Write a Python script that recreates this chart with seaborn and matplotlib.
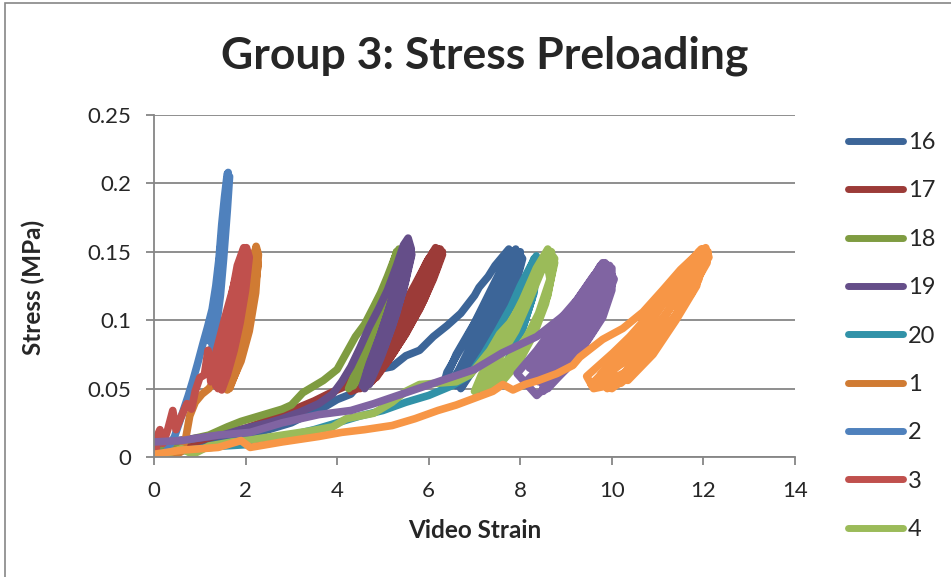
import matplotlib
matplotlib.use("Agg")
import matplotlib.pyplot as plt
import numpy as np
import pandas as pd
import seaborn as sns
from matplotlib.lines import Line2D
from matplotlib.patches import Rectangle

# points as (video strain, stress MPa), in drawing order
s16 = [(0.0, 0.004), (0.5, 0.006), (1.0, 0.008), (1.5, 0.012), (2.0, 0.016), (2.5, 0.020),
       (3.0, 0.025), (3.3, 0.030), (3.6, 0.034), (4.0, 0.042), (4.3, 0.046), (4.6, 0.058),
       (4.9, 0.064), (5.2, 0.066), (5.5, 0.074), (5.8, 0.078), (6.1, 0.088), (6.4, 0.096),
       (6.7, 0.105), (7.0, 0.118), (7.1, 0.124), (7.3, 0.132), (7.45, 0.140), (7.75, 0.152),
       (7.9, 0.145), (7.7, 0.120), (7.3, 0.095), (6.9, 0.072), (6.5, 0.055), (6.3, 0.050),
       (6.4, 0.062), (6.8, 0.085), (7.2, 0.110), (7.6, 0.135), (7.9, 0.152),
       (8.0, 0.140), (7.75, 0.115), (7.4, 0.090), (7.0, 0.070), (6.6, 0.052),
       (6.8, 0.068), (7.2, 0.092), (7.6, 0.120), (7.95, 0.150),
       (8.05, 0.145), (7.85, 0.120), (7.5, 0.095), (7.1, 0.070), (6.7, 0.050),
       (7.0, 0.070), (7.4, 0.100), (7.8, 0.130), (8.0, 0.150),
       (7.7, 0.118), (7.35, 0.095), (6.95, 0.075), (6.55, 0.058), (6.35, 0.055),
       (6.6, 0.075), (7.0, 0.098), (7.4, 0.125), (7.7, 0.145), (7.85, 0.150),
       (7.8, 0.130), (7.45, 0.105), (7.05, 0.080), (6.6, 0.060),
       (6.9, 0.080), (7.3, 0.108), (7.65, 0.135), (7.9, 0.150)]

s17 = [(0.0, 0.003), (0.5, 0.008), (1.0, 0.012), (1.5, 0.017), (2.0, 0.021), (2.5, 0.027),
       (3.0, 0.034), (3.5, 0.041), (3.8, 0.046), (4.2, 0.052), (4.5, 0.066), (4.8, 0.078),
       (5.1, 0.090), (5.4, 0.108), (5.7, 0.126), (6.0, 0.145), (6.2, 0.152),
       (6.3, 0.148), (6.1, 0.130), (5.8, 0.108), (5.4, 0.085), (5.0, 0.066), (4.6, 0.052), (4.3, 0.048),
       (4.5, 0.058), (4.9, 0.076), (5.3, 0.098), (5.65, 0.120), (5.95, 0.142), (6.15, 0.153),
       (6.3, 0.150), (6.05, 0.128), (5.7, 0.104), (5.3, 0.080), (4.9, 0.062), (4.5, 0.050),
       (4.7, 0.062), (5.1, 0.082), (5.5, 0.106), (5.85, 0.130), (6.1, 0.150),
       (6.25, 0.145), (5.95, 0.120), (5.55, 0.094), (5.15, 0.072), (4.75, 0.055),
       (5.0, 0.070), (5.4, 0.094), (5.8, 0.120), (6.1, 0.145), (6.25, 0.152),
       (6.2, 0.140), (5.9, 0.115), (5.5, 0.090), (5.1, 0.070), (4.7, 0.054),
       (4.9, 0.068), (5.25, 0.090), (5.6, 0.112), (5.95, 0.137), (6.2, 0.150),
       (6.0, 0.125), (5.65, 0.100), (5.25, 0.077), (4.85, 0.058)]

s18 = [(0.0, 0.006), (0.4, 0.010), (0.8, 0.013), (1.2, 0.016), (1.6, 0.022), (1.9, 0.026),
       (2.2, 0.029), (2.5, 0.032), (2.8, 0.035), (3.0, 0.038), (3.25, 0.047), (3.5, 0.052),
       (3.7, 0.056), (4.0, 0.064), (4.2, 0.076), (4.4, 0.088), (4.6, 0.097), (4.8, 0.110),
       (4.95, 0.120), (5.1, 0.132), (5.25, 0.145), (5.35, 0.152),
       (5.4, 0.145), (5.25, 0.120), (5.05, 0.095), (4.8, 0.075), (4.5, 0.058), (4.25, 0.050),
       (4.4, 0.062), (4.65, 0.082), (4.9, 0.105), (5.1, 0.128), (5.3, 0.150),
       (5.35, 0.140), (5.15, 0.115), (4.9, 0.090), (4.6, 0.068), (4.35, 0.052),
       (4.55, 0.068), (4.8, 0.090), (5.05, 0.115), (5.3, 0.148),
       (5.2, 0.130), (4.98, 0.105), (4.7, 0.080), (4.45, 0.060),
       (4.6, 0.078), (4.85, 0.100), (5.1, 0.125), (5.3, 0.150)]

s19 = [(0.0, 0.010), (0.5, 0.012), (1.0, 0.014), (1.5, 0.016), (2.0, 0.021), (2.5, 0.025),
       (2.8, 0.028), (3.2, 0.033), (3.6, 0.039), (3.9, 0.046), (4.1, 0.055), (4.3, 0.066),
       (4.5, 0.080), (4.7, 0.095), (4.9, 0.108), (5.1, 0.122), (5.3, 0.140), (5.45, 0.155), (5.55, 0.160),
       (5.62, 0.152), (5.5, 0.130), (5.3, 0.105), (5.05, 0.082), (4.8, 0.063), (4.6, 0.050),
       (4.65, 0.062), (4.85, 0.080), (5.1, 0.105), (5.3, 0.128), (5.5, 0.155),
       (5.6, 0.145), (5.42, 0.120), (5.2, 0.095), (4.95, 0.072), (4.7, 0.053),
       (4.8, 0.068), (5.0, 0.088), (5.25, 0.115), (5.45, 0.140), (5.55, 0.157),
       (5.63, 0.148), (5.45, 0.122), (5.2, 0.098), (4.9, 0.072), (4.55, 0.052),
       (4.7, 0.068), (4.95, 0.090), (5.2, 0.115), (5.4, 0.140), (5.55, 0.155),
       (5.5, 0.135), (5.3, 0.110), (5.05, 0.085), (4.75, 0.060)]

s20 = [(0.1, 0.003), (0.5, 0.004), (1.0, 0.006), (1.5, 0.008), (2.0, 0.009), (2.5, 0.012),
       (3.0, 0.016), (3.5, 0.020), (4.0, 0.025), (4.5, 0.030), (5.0, 0.034), (5.5, 0.040),
       (6.0, 0.045), (6.5, 0.052), (6.9, 0.060), (7.2, 0.075), (7.5, 0.092), (7.8, 0.110),
       (8.0, 0.125), (8.2, 0.138), (8.35, 0.147),
       (8.4, 0.140), (8.25, 0.115), (8.0, 0.088), (7.7, 0.068), (7.35, 0.052), (7.05, 0.045),
       (7.2, 0.058), (7.5, 0.078), (7.8, 0.100), (8.05, 0.122), (8.3, 0.145),
       (8.42, 0.142), (8.2, 0.110), (7.9, 0.080), (7.5, 0.058), (7.1, 0.046),
       (7.3, 0.060), (7.65, 0.085), (7.95, 0.108), (8.2, 0.130), (8.38, 0.145),
       (8.3, 0.120), (8.05, 0.095), (7.75, 0.072), (7.4, 0.055)]

s1 = [(0.4, 0.000), (0.6, 0.004), (0.7, 0.015), (0.78, 0.030), (0.9, 0.040), (1.05, 0.046),
      (1.2, 0.050), (1.45, 0.062), (1.65, 0.075), (1.85, 0.095), (2.0, 0.112), (2.1, 0.128),
      (2.18, 0.145), (2.23, 0.154),
      (2.28, 0.148), (2.22, 0.120), (2.08, 0.092), (1.9, 0.070), (1.7, 0.055), (1.6, 0.049),
      (1.7, 0.065), (1.88, 0.088), (2.02, 0.110), (2.13, 0.132), (2.22, 0.152),
      (2.27, 0.140), (2.15, 0.110), (1.98, 0.085), (1.8, 0.063), (1.65, 0.050),
      (1.78, 0.068), (1.95, 0.092), (2.08, 0.118), (2.2, 0.145),
      (2.25, 0.150), (2.2, 0.125), (2.05, 0.100), (1.88, 0.078), (1.7, 0.058),
      (1.72, 0.060), (1.9, 0.080), (2.05, 0.105), (2.17, 0.128), (2.25, 0.150)]

s2 = [(0.3, 0.006), (0.45, 0.015), (0.55, 0.025), (0.65, 0.035), (0.75, 0.045), (0.85, 0.056),
      (0.95, 0.068), (1.07, 0.083), (1.17, 0.095), (1.27, 0.108), (1.35, 0.125), (1.42, 0.145),
      (1.48, 0.170), (1.54, 0.190), (1.6, 0.207), (1.65, 0.205),
      (1.6, 0.180), (1.52, 0.145), (1.45, 0.118), (1.35, 0.092), (1.25, 0.075),
      (1.32, 0.095), (1.4, 0.118), (1.47, 0.145), (1.54, 0.175), (1.61, 0.200),
      (1.58, 0.190), (1.5, 0.160), (1.42, 0.130), (1.32, 0.100), (1.2, 0.085),
      (1.28, 0.100), (1.38, 0.125), (1.46, 0.155), (1.55, 0.185), (1.62, 0.208)]

s3 = [(0.05, 0.006), (0.08, 0.016), (0.13, 0.020), (0.2, 0.010), (0.3, 0.020), (0.41, 0.034),
      (0.48, 0.020), (0.6, 0.030), (0.72, 0.039), (0.82, 0.035), (0.9, 0.048), (1.0, 0.058),
      (1.1, 0.060), (1.18, 0.078), (1.24, 0.055), (1.3, 0.070), (1.42, 0.085), (1.55, 0.102),
      (1.7, 0.120), (1.82, 0.135), (1.95, 0.150), (2.02, 0.153),
      (2.08, 0.146), (2.0, 0.122), (1.88, 0.098), (1.75, 0.078), (1.6, 0.060), (1.48, 0.049),
      (1.52, 0.070), (1.62, 0.090), (1.74, 0.112), (1.86, 0.135), (1.97, 0.152),
      (2.04, 0.140), (1.93, 0.112), (1.78, 0.085), (1.6, 0.065), (1.4, 0.050),
      (1.45, 0.068), (1.58, 0.095), (1.7, 0.118), (1.82, 0.140), (1.96, 0.153),
      (1.98, 0.130), (1.84, 0.104), (1.68, 0.080), (1.5, 0.058), (1.35, 0.052),
      (1.42, 0.065), (1.55, 0.085), (1.68, 0.108), (1.8, 0.128), (1.92, 0.148),
      (2.0, 0.135), (1.9, 0.115), (1.77, 0.095), (1.62, 0.072), (1.45, 0.055)]

s4 = [(0.2, 0.002), (0.6, 0.006), (0.85, 0.002), (1.2, 0.008), (1.7, 0.011), (2.2, 0.013),
      (2.8, 0.016), (3.4, 0.019), (3.9, 0.022), (4.2, 0.028), (4.8, 0.032), (5.2, 0.040),
      (5.5, 0.048), (5.8, 0.053), (6.2, 0.054), (6.6, 0.055), (6.9, 0.060), (7.1, 0.068),
      (7.34, 0.078), (7.55, 0.090), (7.77, 0.098), (8.0, 0.110), (8.21, 0.120), (8.38, 0.132),
      (8.5, 0.142), (8.62, 0.151),
      (8.75, 0.145), (8.6, 0.118), (8.3, 0.095), (7.9, 0.077), (7.4, 0.060), (7.0, 0.048),
      (7.15, 0.060), (7.45, 0.075), (7.75, 0.095), (8.05, 0.115), (8.35, 0.138), (8.6, 0.152),
      (8.75, 0.142), (8.55, 0.112), (8.3, 0.090), (7.98, 0.070), (7.6, 0.055), (7.2, 0.048),
      (7.35, 0.065), (7.7, 0.085), (8.0, 0.105), (8.3, 0.128), (8.55, 0.148),
      (8.65, 0.130), (8.4, 0.105), (8.1, 0.085), (7.75, 0.068), (7.3, 0.052),
      (7.5, 0.070), (7.9, 0.092), (8.2, 0.115), (8.45, 0.135), (8.68, 0.150)]

s5 = [(0.0, 0.011), (0.6, 0.012), (1.4, 0.016), (2.1, 0.018), (2.8, 0.025), (3.6, 0.031),
      (4.3, 0.034), (4.8, 0.039), (5.5, 0.047), (6.2, 0.055), (7.0, 0.064), (7.6, 0.076),
      (8.36, 0.088), (9.08, 0.107), (9.35, 0.120), (9.6, 0.132), (9.8, 0.142),
      (10.0, 0.138), (10.0, 0.122), (9.8, 0.102), (9.37, 0.080), (8.86, 0.061), (8.36, 0.045),
      (7.93, 0.061), (8.36, 0.078), (8.8, 0.098), (9.24, 0.115), (9.59, 0.132), (9.85, 0.142),
      (10.05, 0.130), (9.65, 0.095), (9.15, 0.070), (8.6, 0.050),
      (8.3, 0.060), (8.7, 0.080), (9.15, 0.100), (9.55, 0.122), (9.9, 0.140),
      (9.85, 0.112), (9.45, 0.087), (9.0, 0.064), (8.5, 0.048),
      (8.5, 0.062), (8.95, 0.085), (9.35, 0.105), (9.7, 0.128), (9.95, 0.140),
      (9.9, 0.120), (9.6, 0.098), (9.2, 0.078), (8.75, 0.058), (8.15, 0.056),
      (8.6, 0.072), (9.0, 0.090), (9.45, 0.112), (9.8, 0.135),
      (9.75, 0.115), (9.35, 0.092), (8.9, 0.072), (8.4, 0.055),
      (8.75, 0.068), (9.2, 0.090), (9.6, 0.115), (9.95, 0.132),
      (9.55, 0.100), (9.1, 0.080), (8.6, 0.060),
      (8.2, 0.065), (8.65, 0.085), (9.1, 0.105), (9.5, 0.125), (9.75, 0.140)]

s7 = [(0.0, 0.002), (0.6, 0.005), (1.4, 0.007), (1.9, 0.012), (2.1, 0.007), (2.8, 0.011),
      (3.6, 0.015), (4.1, 0.018), (4.6, 0.020), (5.2, 0.023), (5.7, 0.028), (6.2, 0.034),
      (6.6, 0.038), (7.0, 0.043), (7.4, 0.048), (7.62, 0.053), (7.84, 0.049), (8.1, 0.053),
      (8.4, 0.056), (8.8, 0.061), (9.15, 0.067), (9.3, 0.073), (9.8, 0.086), (10.24, 0.094),
      (10.68, 0.106), (11.11, 0.122), (11.5, 0.137), (11.85, 0.148), (12.05, 0.153),
      (12.12, 0.146), (11.7, 0.124), (11.27, 0.095), (10.76, 0.071), (10.2, 0.054), (9.6, 0.050),
      (9.45, 0.059), (10.02, 0.076), (10.39, 0.088), (10.76, 0.102), (11.11, 0.117), (11.48, 0.134), (11.95, 0.152),
      (12.08, 0.142), (11.6, 0.114), (11.1, 0.087), (10.6, 0.066), (10.0, 0.050),
      (9.8, 0.056), (10.3, 0.078), (10.9, 0.104), (11.35, 0.124), (11.8, 0.145), (12.05, 0.150),
      (11.9, 0.130), (11.45, 0.105), (10.95, 0.080), (10.4, 0.060), (9.9, 0.050),
      (10.0, 0.062), (10.55, 0.085), (11.05, 0.110), (11.55, 0.135), (11.98, 0.152),
      (11.75, 0.120), (11.3, 0.100), (10.8, 0.078), (10.3, 0.062), (9.7, 0.052),
      (10.1, 0.068), (10.65, 0.090), (11.2, 0.115), (11.65, 0.138), (12.1, 0.150),
      (11.95, 0.135), (11.55, 0.110), (11.05, 0.086), (10.5, 0.065), (9.95, 0.052),
      (10.2, 0.058), (10.7, 0.080), (11.2, 0.105), (11.7, 0.132), (12.02, 0.148),
      (11.85, 0.125), (11.4, 0.100), (10.9, 0.075), (10.35, 0.056),
      (9.75, 0.060), (10.2, 0.075), (10.6, 0.092), (11.0, 0.110), (11.4, 0.128), (11.9, 0.150),
      (11.8, 0.138), (11.35, 0.112), (10.85, 0.090), (10.3, 0.070), (9.55, 0.053),
      (9.9, 0.065), (10.45, 0.085), (10.95, 0.107), (11.45, 0.130), (11.9, 0.147)]

series_names = ["16", "17", "18", "19", "20", "1", "2", "3", "4", "5", "7"]
series_points = [s16, s17, s18, s19, s20, s1, s2, s3, s4, s5, s7]
legend_names = ["16", "17", "18", "19", "20", "1", "2", "3", "4"]
colors = {"16": "#3C6598", "17": "#9C3B38", "18": "#7F9C41", "19": "#654E89",
          "20": "#3192A8", "1": "#D07B33", "2": "#4F81BD", "3": "#C0504D",
          "4": "#9BBB59", "5": "#8064A2", "7": "#F79646"}

rows = []
for name, pts in zip(series_names, series_points):
    for x, y in pts:
        rows.append({"series": name, "strain": x, "stress": y})
df = pd.DataFrame(rows)

sns.set_theme(style="white")
plt.rcParams["font.family"] = ["Lato", "DejaVu Sans"]
grid_col = "#868686"

fig = plt.figure(figsize=(9.51, 5.77), dpi=100)
ax = fig.add_axes([154 / 951, 1 - 457 / 577, (795 - 154) / 951, (457 - 115) / 577])

ax.set_xlim(0, 14)
ax.set_ylim(0, 0.25)
ax.set_xticks(np.arange(0, 15, 2))
ax.set_yticks([0, 0.05, 0.1, 0.15, 0.2, 0.25])
ax.set_yticklabels(["0", "0.05", "0.1", "0.15", "0.2", "0.25"])
ax.yaxis.grid(True, color=grid_col, linewidth=1.3)
ax.set_axisbelow(True)

sns.lineplot(data=df, x="strain", y="stress", hue="series", hue_order=series_names,
             palette=colors, sort=False, estimator=None, legend=False, ax=ax,
             linewidth=5.5, solid_capstyle="round", solid_joinstyle="round")

for side in ["top", "right"]:
    ax.spines[side].set_visible(False)
for side in ["left", "bottom"]:
    ax.spines[side].set_color(grid_col)
    ax.spines[side].set_linewidth(1.3)
ax.tick_params(axis="both", direction="out", length=5.5, width=1.3, color=grid_col,
               labelsize=16, left=True, bottom=True)
ax.tick_params(axis="x", pad=12)
ax.tick_params(axis="y", pad=11)
ax.set_xlabel("")
ax.set_ylabel("")

fig.text(485 / 951, 1 - 56 / 577, "Group 3: Stress Preloading", ha="center", va="center",
         fontsize=32, fontweight="bold")
fig.text(475 / 951, 1 - 530 / 577, "Video Strain", ha="center", va="center",
         fontsize=17.5, fontweight="bold")
fig.text(33 / 951, 1 - 287 / 577, "Stress (MPa)", ha="center", va="center",
         rotation=90, fontsize=17.5, fontweight="bold")

handles = [Line2D([0], [0], color=colors[n], lw=5, solid_capstyle="round") for n in legend_names]
fig.legend(handles, legend_names, loc="upper left", bbox_to_anchor=(848 / 951, 1 - 132 / 577),
           frameon=False, fontsize=17, handlelength=2.35, handletextpad=0.2,
           labelspacing=1.16, borderpad=0, borderaxespad=0)

fig.patches.append(Rectangle((5 / 951, -0.1), 1.2, 1.1 - 3 / 577, transform=fig.transFigure,
                             fill=False, edgecolor=grid_col, linewidth=1.2))

fig.savefig("out.png", dpi=100)
